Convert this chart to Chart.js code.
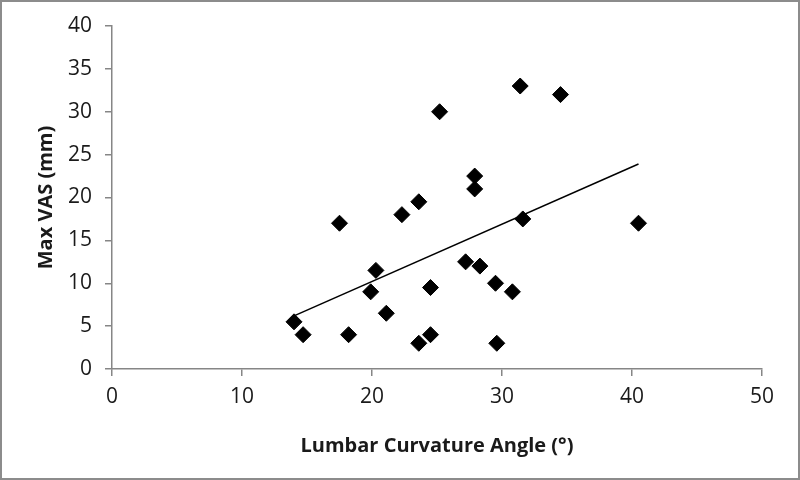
<!DOCTYPE html>
<html>
<head>
<meta charset="utf-8">
<script src="https://cdn.jsdelivr.net/npm/chart.js@4"></script>
<style>
  html, body { margin: 0; padding: 0; background: #fff; }
  #wrap { width: 800px; height: 480px; }
</style>
</head>
<body>
<div id="wrap"><canvas id="chart" width="800" height="480"></canvas></div>
<script>
// lumbar curvature angle (deg) vs max VAS (mm)
const angles = [14, 14.7, 17.5, 18.2, 19.9, 20.3, 21.1, 22.3, 23.6, 23.6, 24.5, 24.5,
  25.2, 27.2, 28.3, 27.9, 27.9, 29.5, 29.6, 30.8, 31.4, 31.6, 34.5, 40.5];
const vas = [5.5, 4, 17, 4, 9, 11.5, 6.5, 18, 19.5, 3, 4, 9.5,
  30, 12.5, 12, 22.5, 21, 10, 3, 9, 33, 17.5, 32, 17];
// linear trend line end points
const trendX = [14, 40.5];
const trendY = [6.2, 23.9];
const xTicks = [0, 10, 20, 30, 40, 50];
const yTicks = [0, 5, 10, 15, 20, 25, 30, 35, 40];

const axisColor = '#868686';
const font = "'Open Sans', 'Liberation Sans', sans-serif";

const frame = {
  id: 'frame',
  beforeDraw(chart) {
    const ctx = chart.ctx;
    ctx.save();
    ctx.fillStyle = '#fff';
    ctx.fillRect(0, 0, chart.width, chart.height);
    ctx.strokeStyle = '#8c8c8c';
    ctx.lineWidth = 2;
    ctx.strokeRect(1, 1, chart.width - 2, chart.height - 2);
    ctx.restore();
  }
};

new Chart(document.getElementById('chart'), {
  type: 'scatter',
  data: {
    datasets: [
      {
        label: 'Max VAS',
        data: angles.map((a, i) => ({ x: a, y: vas[i] })),
        pointStyle: 'rectRot',
        pointRadius: 8,
        backgroundColor: '#000',
        borderColor: '#000',
        borderWidth: 1
      },
      {
        label: 'Linear',
        type: 'line',
        data: trendX.map((a, i) => ({ x: a, y: trendY[i] })),
        borderColor: '#000',
        borderWidth: 1.5,
        pointRadius: 0,
        fill: false
      }
    ]
  },
  options: {
    responsive: false,
    animation: false,
    layout: { padding: { left: 0, right: 38, top: 26, bottom: 0 } },
    plugins: {
      legend: { display: false },
      tooltip: { enabled: false }
    },
    scales: {
      x: {
        type: 'linear',
        min: 0,
        max: 50,
        afterBuildTicks: s => { s.ticks = xTicks.map(v => ({ value: v })); },
        afterFit: s => { s.height = 111; },
        border: { color: axisColor, width: 1.5 },
        grid: { display: true, drawOnChartArea: false, color: axisColor, tickLength: 7, lineWidth: 1.5 },
        ticks: { color: '#1a1a1a', font: { family: font, size: 21 }, padding: 8 },
        title: {
          display: true,
          text: 'Lumbar Curvature Angle (°)',
          color: '#1a1a1a',
          font: { family: font, size: 20, weight: 'bold' },
          padding: { top: 8, bottom: 22 }
        }
      },
      y: {
        type: 'linear',
        min: 0,
        max: 40,
        afterBuildTicks: s => { s.ticks = yTicks.map(v => ({ value: v })); },
        afterFit: s => { s.width = 112; },
        border: { color: axisColor, width: 1.5 },
        grid: { display: true, drawOnChartArea: false, color: axisColor, tickLength: 7, lineWidth: 1.5 },
        ticks: { color: '#1a1a1a', font: { family: font, size: 21 }, padding: 13 },
        title: {
          display: true,
          text: 'Max VAS (mm)',
          color: '#1a1a1a',
          font: { family: font, size: 20, weight: 'bold' },
          padding: { top: 34, bottom: 0 }
        }
      }
    }
  },
  plugins: [frame]
});
</script>
</body>
</html>
